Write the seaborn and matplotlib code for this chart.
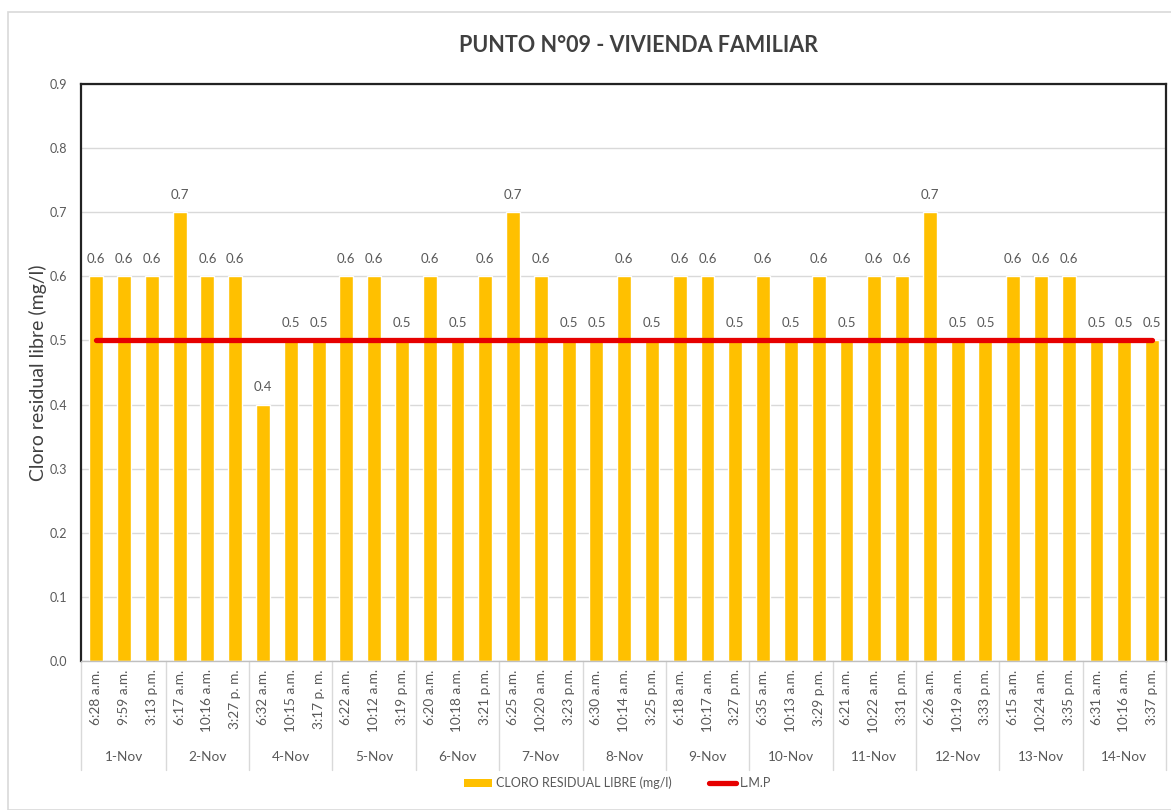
import numpy as np
import pandas as pd
import seaborn as sns
import matplotlib.pyplot as plt
from matplotlib.lines import Line2D
from matplotlib.patches import Rectangle, Patch
import matplotlib.transforms as mtransforms

# Data
dias = ['1-Nov', '2-Nov', '4-Nov', '5-Nov', '6-Nov', '7-Nov', '8-Nov',
        '9-Nov', '10-Nov', '11-Nov', '12-Nov', '13-Nov', '14-Nov']
horas = [
    '6:28 a.m.', '9:59 a.m.', '3:13 p.m.',
    '6:17 a.m.', '10:16 a.m.', '3:27 p. m.',
    '6:32 a.m.', '10:15 a.m.', '3:17 p. m.',
    '6:22 a.m.', '10:12 a.m.', '3:19 p.m.',
    '6:20 a.m.', '10:18 a.m.', '3:21 p.m.',
    '6:25 a.m.', '10:20 a.m.', '3:23 p.m.',
    '6:30 a.m.', '10:14 a.m.', '3:25 p.m.',
    '6:18 a.m.', '10:17 a.m.', '3:27 p.m.',
    '6:35 a.m.', '10:13 a.m.', '3:29 p.m.',
    '6:21 a.m.', '10:22 a.m.', '3:31 p.m.',
    '6:26 a.m.', '10:19 a.m.', '3:33 p.m.',
    '6:15 a.m.', '10:24 a.m.', '3:35 p.m.',
    '6:31 a.m.', '10:16 a.m.', '3:37 p.m.',
]
cloro = [0.6, 0.6, 0.6,
         0.7, 0.6, 0.6,
         0.4, 0.5, 0.5,
         0.6, 0.6, 0.5,
         0.6, 0.5, 0.6,
         0.7, 0.6, 0.5,
         0.5, 0.6, 0.5,
         0.6, 0.6, 0.5,
         0.6, 0.5, 0.6,
         0.5, 0.6, 0.6,
         0.7, 0.5, 0.5,
         0.6, 0.6, 0.6,
         0.5, 0.5, 0.5]
lmp = [0.5] * len(cloro)

n = len(cloro)
df = pd.DataFrame({'idx': [str(i) for i in range(n)], 'hora': horas, 'cloro': cloro})

sns.set_theme(style='white')
plt.rcParams['font.family'] = ['Lato', 'DejaVu Sans']

fig = plt.figure(figsize=(11.71, 8.10), dpi=100)
ax = fig.add_axes([81 / 1171, 1 - 661 / 810, 1085 / 1171, 577 / 810])

# outer frame of the chart area
fig.patches.append(Rectangle((8 / 1171, 0), 1, 1 - 12 / 810, transform=fig.transFigure,
                             fill=False, edgecolor='#d9d9d9', lw=1.2, zorder=0))

sns.barplot(data=df, x='idx', y='cloro', color='#FFC000', saturation=1,
            width=0.5, ax=ax, zorder=2)
ax.bar_label(ax.containers[0], fmt='%.1f', padding=8, fontsize=9.5, color='#595959')

sns.lineplot(x=np.arange(n), y=lmp, color='#E60000', lw=3.8, ax=ax, zorder=3,
             solid_capstyle='round')

ax.set_ylim(0, 0.9)
ax.set_xlim(-0.55, n - 0.5)
ax.set_yticks(np.arange(0, 0.91, 0.1))
ax.set_yticklabels([f'{v:.1f}' for v in np.arange(0, 0.91, 0.1)], fontsize=9, color='#595959')
ax.yaxis.grid(True, color='#d9d9d9', lw=1)
ax.set_axisbelow(True)
ax.tick_params(axis='y', length=0, pad=10)

ax.set_xticks(range(n))
ax.set_xticklabels(horas, rotation=90, fontsize=9.8, color='#595959', va='top')
ax.tick_params(axis='x', length=0, pad=6)
ax.set_xlabel('')
ax.set_ylabel('Cloro residual libre (mg/l)', fontsize=14, color='#404040', labelpad=2)

for s in ['left', 'top', 'right']:
    ax.spines[s].set_color('#222222')
    ax.spines[s].set_linewidth(1.6)
ax.spines['bottom'].set_color('#bfbfbf')
ax.spines['bottom'].set_linewidth(1)

# day group labels and separators below the axis
trans = mtransforms.blended_transform_factory(ax.transData, ax.transAxes)
sep_bottom = -(770 - 661) / 577
for k, d in enumerate(dias):
    ax.text(3 * k + 1, -(757 - 661) / 577, d, transform=trans, ha='center', va='center',
            fontsize=9.8, color='#595959')
for k in range(len(dias) + 1):
    xpos = 3 * k - 0.5 if k > 0 else -0.55
    ax.add_line(Line2D([xpos, xpos], [0, sep_bottom], transform=trans, color='#d9d9d9',
                       lw=1, clip_on=False))

fig.text(ax.get_position().x0 + ax.get_position().width / 2 + 15 / 1171, 1 - 45 / 810,
         'PUNTO N°09 - VIVIENDA FAMILIAR', ha='center', va='center',
         fontsize=15.5, fontweight='bold', color='#404040')

handles = [Patch(facecolor='#FFC000', edgecolor='none'),
           Line2D([0], [0], color='#E60000', lw=3.8)]
fig.legend(handles, ['CLORO RESIDUAL LIBRE (mg/l)', 'L.M.P'], loc='center',
           bbox_to_anchor=(618 / 1171, 1 - 783 / 810), ncol=2, frameon=False,
           fontsize=9, handlelength=2.2, handletextpad=0.3, columnspacing=3,
           labelcolor='#595959')

fig.savefig('out.png', dpi=100)
